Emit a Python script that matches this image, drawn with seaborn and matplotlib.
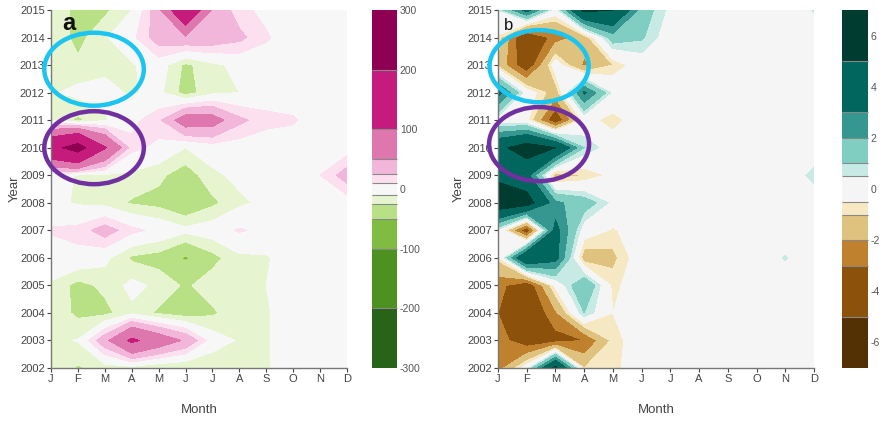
import numpy as np
import matplotlib
matplotlib.use("Agg")
import matplotlib.pyplot as plt
import seaborn as sns
from matplotlib.patches import Ellipse

# month / year grid
months = ['J', 'F', 'M', 'A', 'M', 'J', 'J', 'A', 'S', 'O', 'N', 'D']
years = list(range(2002, 2016))

# panel a values (J..D), one row per year
a_2002 = [-14, -27, -18, -18, -26, -27, -24, -14, -12, 0, 0, 0]
a_2003 = [-14, -9, 40, 110, 75, 45, 0, -12, -12, 0, 0, 0]
a_2004 = [-14, -29, -30, -14, -28, -35, -28, -14, -12, 0, 0, 0]
a_2005 = [-12, -31, -21, -5, -14, -28, -16, -12, -10, 0, 0, 0]
a_2006 = [0, 5, -5, -28, -33, -53, -31, -14, -12, 0, 0, 0]
a_2007 = [12, 15, 35, 15, 5, -5, 0, 12, 5, 0, 0, 0]
a_2008 = [-5, -12, -16, -27, -31, -44, -29, -14, -5, 0, 0, 0]
a_2009 = [0, -12, -12, -14, -21, -35, -14, -5, 0, 0, 10, 35]
a_2010 = [170, 240, 105, 15, 5, -10, 0, 0, 0, 0, 0, 0]
a_2011 = [-10, -29, -12, 5, 20, 70, 65, 30, 15, 12, 0, 0]
a_2012 = [-12, -5, -5, -12, -5, -33, -14, -10, 0, 0, 0, 0]
a_2013 = [-12, -21, -14, -12, 0, -29, -14, -5, 0, 0, 0, 0]
a_2014 = [-12, -31, -12, 5, 35, 45, 40, 30, 12, 0, 0, 0]
a_2015 = [-12, -31, -29, -10, 40, 170, 45, 15, 5, 0, 0, 0]

# panel b values
b_2002 = [-2.5, 0, 5.5, -1, -0.7, 0, 0, 0, 0, 0, 0, 0]
b_2003 = [-2.5, -3.8, -3.5, -3.0, -0.8, 0, 0, 0, 0, 0, 0, 0]
b_2004 = [-3, -4.5, -2.2, 1.0, -0.5, 0, 0, 0, 0, 0, 0, 0]
b_2005 = [-2.6, -4, -0.3, 2.0, -0.7, 0, 0, 0, 0, 0, 0, 0]
b_2006 = [-0.8, 5, 3.5, -1.5, -1.2, 0, 0, 0, 0, 0, 0.55, 0]
b_2007 = [0.3, -4, 3.5, 0, -0.6, 0, 0, 0, 0, 0, 0, 0]
b_2008 = [6.5, 6.0, 2.2, 1.5, 0.3, 0, 0, 0, 0, 0, 0, 0]
b_2009 = [4.5, 3.5, -1.5, -1, -0.3, 0, 0, 0, 0, 0, 0, 0.7]
b_2010 = [4.5, 6, 5, 1, 0, 0, 0, 0, 0, 0, 0, 0]
b_2011 = [0, -0.3, -4, -0.2, -0.8, 0, 0, 0, 0, 0, 0, 0]
b_2012 = [3.5, 0, -1.5, 3.2, 0.3, 0, 0, 0, 0, 0, 0, 0]
b_2013 = [-1.2, -4, 0, -2.2, -1.0, 0, 0, 0, 0, 0, 0, 0]
b_2014 = [-0.6, -4.5, -2.5, -1.5, 1.5, 1.1, 0, 0, 0, 0, 0, 0]
b_2015 = [0.5, 3.5, 0, 5.5, 5, 1.5, 0.3, 0, 0, 0, 0, 0.55]

levels_a = [-300, -200, -100, -50, -25, -10, 10, 25, 50, 100, 200, 300]
levels_b = [-7, -5, -3, -2, -1, -0.5, 0.5, 1, 2, 3, 5, 7]
ticks_a = [-300, -200, -100, 0, 100, 200, 300]
ticks_b = [-6, -4, -2, 0, 2, 4, 6]

# brewer 11-class palettes
colors_a = ['#276419', '#4d9221', '#7fbc41', '#b8e186', '#e6f5d0', '#f7f7f7',
            '#fde0ef', '#f1b6da', '#de77ae', '#c51b7d', '#8e0152']
colors_b = ['#543005', '#8c510a', '#bf812d', '#dfc27d', '#f6e8c3', '#f5f5f5',
            '#c7eae5', '#80cdc1', '#35978f', '#01665e', '#003c30']

Za = np.array([a_2002, a_2003, a_2004, a_2005, a_2006, a_2007, a_2008,
               a_2009, a_2010, a_2011, a_2012, a_2013, a_2014, a_2015])
Zb = np.array([b_2002, b_2003, b_2004, b_2005, b_2006, b_2007, b_2008,
               b_2009, b_2010, b_2011, b_2012, b_2013, b_2014, b_2015])

sns.set_theme(style='ticks')
plt.rcParams['font.family'] = ['Liberation Sans', 'DejaVu Sans']
plt.rcParams['axes.unicode_minus'] = False

fig = plt.figure(figsize=(8.83, 4.22), dpi=100)
W, H = 883, 422

def px_axes(x0, y0, x1, y1):
    return fig.add_axes([x0 / W, 1 - y1 / H, (x1 - x0) / W, (y1 - y0) / H])

ax_a = px_axes(51, 10, 347, 368)
cax_a = px_axes(372, 10, 397, 368)
ax_b = px_axes(498, 10, 814, 368)
cax_b = px_axes(842, 10, 868, 368)

xx = np.arange(len(months))

def draw_panel(ax, cax, Z, levels, colors, ticks, letter, lx, lsize, lweight, ylx):
    cs = ax.contourf(xx, years, Z, levels=levels, colors=colors)
    ax.set_xlim(0, 11)
    ax.set_ylim(2002, 2015)
    ax.set_xticks(xx)
    ax.set_xticklabels(months)
    ax.set_yticks(years)
    ax.set_yticklabels([str(y) for y in years])
    ax.tick_params(labelsize=8, colors='#444', length=3, width=0.8, pad=1.5)
    for s in ['top', 'right']:
        ax.spines[s].set_visible(False)
    for s in ['left', 'bottom']:
        ax.spines[s].set_color('#777')
        ax.spines[s].set_linewidth(1)
    ax.set_xlabel('Month', fontsize=9.5, color='#444')
    ax.set_ylabel('Year', fontsize=9.5, color='#444')
    ax.xaxis.set_label_coords(0.5, -0.1)
    ax.yaxis.set_label_coords(ylx, 0.5)
    ax.text(lx, 0.944, letter, transform=ax.transAxes, fontsize=lsize,
            fontweight=lweight, va='baseline', ha='left', color='#111')
    cb = fig.colorbar(cs, cax=cax, spacing='proportional', ticks=ticks,
                      drawedges=True)
    cb.outline.set_visible(False)
    cb.dividers.set_color('#888')
    cb.dividers.set_linewidth(0.8)
    cb.ax.tick_params(labelsize=7.5, colors='#555', length=0, pad=2)
    return cs

draw_panel(ax_a, cax_a, Za, levels_a, colors_a, ticks_a, 'a', 0.037, 17, 'bold', -0.103)
draw_panel(ax_b, cax_b, Zb, levels_b, colors_b, ticks_b, 'b', 0.019, 12, 'normal', -0.106)

# highlight ellipses (month index, year, width, height)
cyan = '#1cc4f0'
purple = '#7030a0'
ellipses = [
    (ax_a, 1.6, 2012.85, 3.7, 2.65, cyan),
    (ax_a, 1.6, 2010.0, 3.7, 2.65, purple),
    (ax_b, 1.43, 2012.96, 3.45, 2.62, cyan),
    (ax_b, 1.43, 2010.13, 3.48, 2.69, purple),
]
for ax, cx, cy, w, h, c in ellipses:
    ax.add_patch(Ellipse((cx, cy), w, h, fill=False, edgecolor=c,
                         linewidth=3.2, clip_on=False, zorder=5))

plt.savefig('out.png', dpi=100)
